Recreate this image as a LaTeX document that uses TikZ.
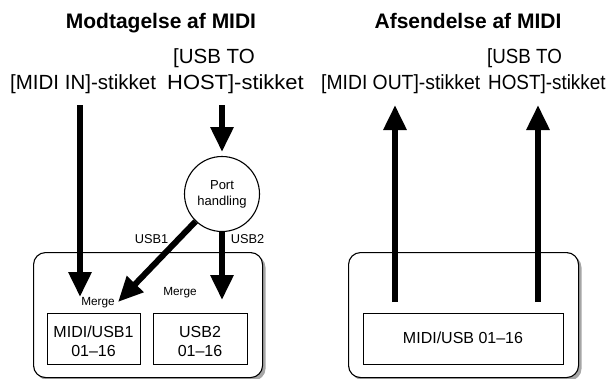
\documentclass[tikz,border=0pt]{standalone}
\usepackage{fontspec}
\setmainfont{Liberation Sans}
\usetikzlibrary{arrows.meta,shadows}
\begin{document}
\begin{tikzpicture}[x=1pt,y=-1pt,
  big/.style={font=\fontsize{20.5}{24}\selectfont, inner sep=0pt, anchor=base west},
  ttl/.style={font=\fontsize{21}{25}\selectfont\bfseries, inner sep=0pt, anchor=base},
  small/.style={font=\fontsize{12.8}{15}\selectfont, inner sep=0pt, anchor=base},
  mrg/.style={font=\fontsize{11.8}{14}\selectfont, inner sep=0pt, anchor=base},
  boxtxt/.style={font=\fontsize{16}{18}\selectfont, inner sep=0pt, anchor=base},
  frame/.style={draw=black, line width=1.1pt, rounded corners=12pt, fill=white,
     drop shadow={shadow xshift=3pt, shadow yshift=-3pt, fill=black!35, opacity=1}},
  chbox/.style={draw=black, line width=1.1pt, fill=white},
  flow/.style={line width=6pt, -{Triangle[width=22pt,length=25pt]}},
]
\useasboundingbox (0,0) rectangle (607,378);

% titles
\node[ttl] (t1) at (161,28) {Modtagelse af MIDI};
\node[ttl] (t2) at (468,28) {Afsendelse af MIDI};

% port labels
\node[big] (midiin) at (10,89) {[MIDI IN]-stikket};
\node[big] (usbtoL) at (173,63) {[USB TO};
\node[big] (hostL) at (167,89) {\scalebox{1.07}[1]{HOST]-stikket}};
\node[big] (midiout) at (321,89) {\scalebox{0.943}[1]{[MIDI OUT]-stikket}};
\node[big] (usbtoR) at (487,63) {\scalebox{0.915}[1]{[USB TO}};
\node[big] (hostR) at (488,89) {\scalebox{0.92}[1]{HOST]-stikket}};

% frames
\node[frame, minimum width=229pt, minimum height=125pt, anchor=north west] (frameL) at (33,252) {};
\node[frame, minimum width=230pt, minimum height=125pt, anchor=north west] (frameR) at (348,252) {};

% channel boxes
\node[chbox, minimum width=93pt, minimum height=51pt, anchor=north west] (b1) at (47,313) {};
\node[chbox, minimum width=94pt, minimum height=51pt, anchor=north west] (b2) at (153,313) {};
\node[chbox, minimum width=200pt, minimum height=51pt, anchor=north west] (b3) at (363,313) {};
\node[boxtxt] (b1a) at (93.5,337) {MIDI/USB1};
\node[boxtxt] (b1b) at (93.5,356) {01–16};
\node[boxtxt] (b2a) at (200,337) {USB2};
\node[boxtxt] (b2b) at (200,356) {01–16};
\node[boxtxt] (b3a) at (463,343) {MIDI/USB 01–16};

% port handling
\node[draw=black, line width=1.1pt, circle, minimum size=75pt, inner sep=0pt, fill=white,
  font=\fontsize{13}{16}\selectfont, align=center] (port) at (222,194) {Port\\handling};

% coordinates
\coordinate (inS) at (80,105);
\coordinate (inE) at (80,297);
\coordinate (usbS) at (222,105);
\coordinate (usbE) at (222,152);
\coordinate (u1E) at (118,302);
\coordinate (u2E) at (222,300);
\coordinate (o1S) at (395,302);
\coordinate (o1E) at (395,105);
\coordinate (o2S) at (538,302);
\coordinate (o2E) at (538,105);

% arrows
\draw[flow] (inS) -- (inE);
\draw[flow] (usbS) -- (usbE);
\draw[flow] (port) -- (u1E);
\draw[flow] (port.south) -- (u2E);
\draw[flow] (o1S) -- (o1E);
\draw[flow] (o2S) -- (o2E);

% labels
\node[small] (l1) at (151.5,243) {USB1};
\node[small] (l2) at (247.5,243) {USB2};
\node[mrg] (m1) at (98,305) {Merge};
\node[mrg] (m2) at (180,295) {Merge};
\end{tikzpicture}
\end{document}
